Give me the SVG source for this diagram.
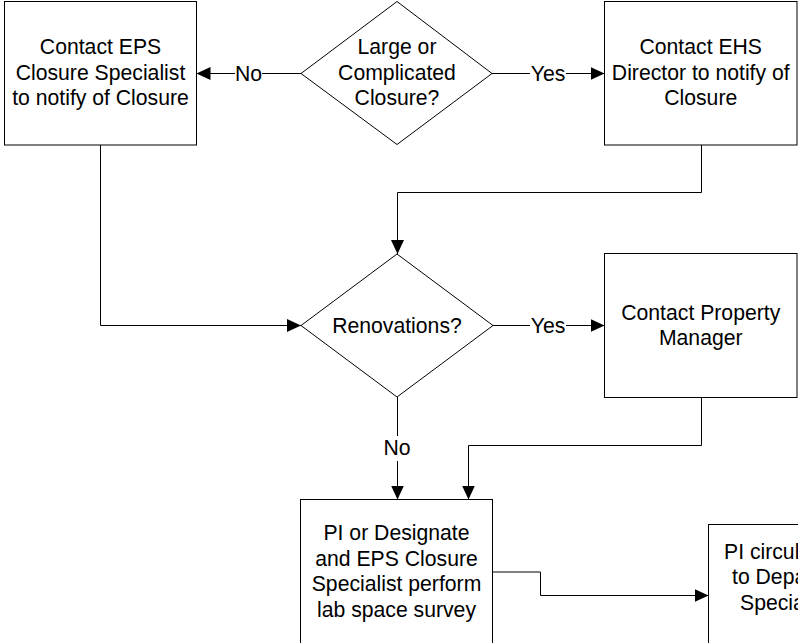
<svg xmlns="http://www.w3.org/2000/svg" width="798" height="643" viewBox="0 0 798 643">
<defs>
<style>
.shape{fill:#fff;stroke:#000;stroke-width:1}
.ln{fill:none;stroke:#000;stroke-width:1}
.t{font-family:"Liberation Sans",Arial,sans-serif;font-size:21.2px;fill:#000;text-anchor:middle}
.ts{font-family:"Liberation Sans",Arial,sans-serif;font-size:21.2px;fill:#000;text-anchor:start}
</style>
<marker id="arr" markerUnits="userSpaceOnUse" markerWidth="14" markerHeight="13" refX="14" refY="6.5" orient="auto">
<path d="M0,0 L14,6.5 L0,13 Z" fill="#000"/>
</marker>
</defs>
<rect width="798" height="643" fill="#fff"/>

<g id="connectors">
<!-- decision1 -> No -> box1 -->
<line class="ln" x1="301" y1="73.5" x2="262" y2="73.5"/>
<line class="ln" x1="235" y1="73.5" x2="196.5" y2="73.5" marker-end="url(#arr)"/>
<text class="t" x="248.5" y="81">No</text>
<!-- decision1 -> Yes -> box2 -->
<line class="ln" x1="492" y1="73.5" x2="530" y2="73.5"/>
<line class="ln" x1="566" y1="73.5" x2="604.5" y2="73.5" marker-end="url(#arr)"/>
<text class="t" x="548" y="81">Yes</text>
<!-- box2 -> decision2 -->
<polyline class="ln" points="701.5,145 701.5,192.5 397.5,192.5 397.5,254" marker-end="url(#arr)"/>
<!-- box1 -> decision2 -->
<polyline class="ln" points="100.5,145 100.5,325.5 301,325.5" marker-end="url(#arr)"/>
<!-- decision2 -> Yes -> box3 -->
<line class="ln" x1="493" y1="325.5" x2="530" y2="325.5"/>
<line class="ln" x1="566" y1="325.5" x2="604.5" y2="325.5" marker-end="url(#arr)"/>
<text class="t" x="548" y="333">Yes</text>
<!-- decision2 -> No -> box4 -->
<line class="ln" x1="397.5" y1="397" x2="397.5" y2="436"/>
<line class="ln" x1="397.5" y1="461" x2="397.5" y2="499.5" marker-end="url(#arr)"/>
<text class="t" x="397" y="455">No</text>
<!-- box3 -> box4 -->
<polyline class="ln" points="701.5,397.5 701.5,445.5 468.5,445.5 468.5,499.5" marker-end="url(#arr)"/>
<!-- box4 -> box5 -->
<polyline class="ln" points="492.5,572 540.5,572 540.5,595.5 708.5,595.5" marker-end="url(#arr)"/>
</g>

<g id="box1">
<rect class="shape" x="4.5" y="1.5" width="192" height="143.5"/>
<text class="t" x="100.5" y="54">Contact EPS</text>
<text class="t" x="100.5" y="79.5">Closure Specialist</text>
<text class="t" x="100.5" y="105">to notify of Closure</text>
</g>

<g id="decision1">
<polygon class="shape" points="397,1.5 492,73.5 397,144.5 301,73.5"/>
<text class="t" x="397" y="54">Large or</text>
<text class="t" x="397" y="79.5">Complicated</text>
<text class="t" x="397" y="105">Closure?</text>
</g>

<g id="box2">
<rect class="shape" x="604.5" y="1.5" width="192.5" height="143.5"/>
<text class="t" x="700.75" y="54">Contact EHS</text>
<text class="t" x="700.75" y="79.5">Director to notify of</text>
<text class="t" x="700.75" y="105">Closure</text>
</g>

<g id="decision2">
<polygon class="shape" points="397,254 493,325.5 397,397 301,325.5"/>
<text class="t" x="397" y="333">Renovations?</text>
</g>

<g id="box3">
<rect class="shape" x="604.5" y="253.5" width="192.5" height="144"/>
<text class="t" x="700.75" y="319.5">Contact Property</text>
<text class="t" x="700.75" y="345">Manager</text>
</g>

<g id="box4">
<rect class="shape" x="300.5" y="499.5" width="192" height="146"/>
<text class="t" x="396.5" y="540">PI or Designate</text>
<text class="t" x="396.5" y="565.5">and EPS Closure</text>
<text class="t" x="396.5" y="591">Specialist perform</text>
<text class="t" x="396.5" y="616.5">lab space survey</text>
</g>

<g id="box5">
<rect class="shape" x="708.5" y="524.5" width="192" height="144"/>
<text class="ts" x="724" y="558.5">PI circul</text>
<text class="ts" x="732" y="584">to Depa</text>
<text class="ts" x="740" y="609.5">Specia</text>
</g>
</svg>
